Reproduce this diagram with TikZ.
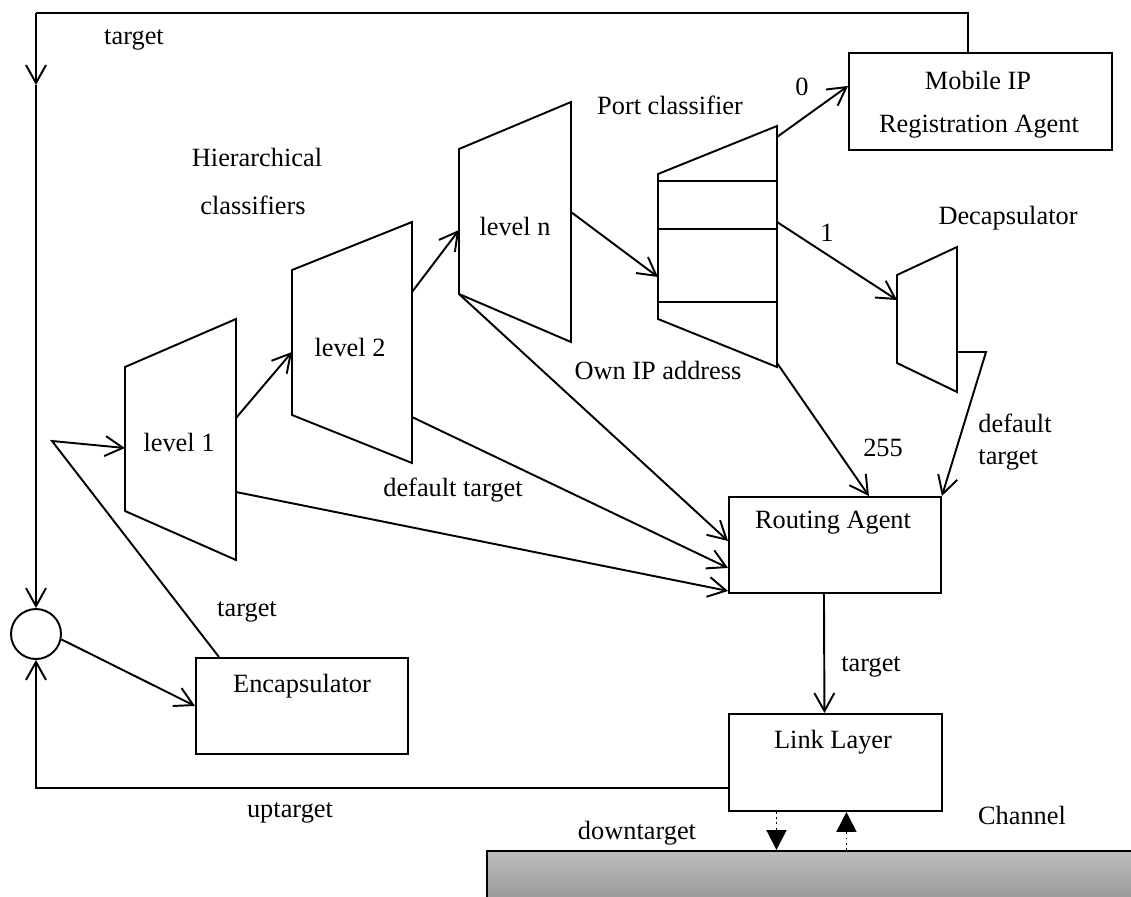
\documentclass[tikz,border=0pt]{standalone}
\usepackage{fontspec}
\setmainfont{Liberation Serif}
\usetikzlibrary{arrows.meta,positioning}
\definecolor{chantop}{HTML}{BDBDBD}
\definecolor{chanbot}{HTML}{8E8E8E}
\tikzset{
  vbox/.style={draw=black,line width=1.1pt,fill=white,inner sep=0pt},
  vtrap/.style={draw=black,line width=1.1pt,line join=miter},
  vline/.style={draw=black,line width=1.1pt},
  varr/.style={-{Straight Barb[length=3.6mm,width=4mm]},line width=1.1pt,draw=black},
  vdot/.style={-{Triangle[length=4mm,width=4mm]},line width=1pt,dotted,draw=black},
  vchan/.style={draw=black,line width=1.1pt,top color=chantop,bottom color=chanbot}
}

\begin{document}
\begin{tikzpicture}[x=0.02cm,y=-0.02cm,font=\fontsize{15}{18}\selectfont]
  \useasboundingbox (0,0) rectangle (1131,896);

  % boxes
  \node[vbox,anchor=north west,minimum width=5.26cm,minimum height=1.94cm] (mip) at (848,52) {};
  \node[vbox,anchor=north west,minimum width=4.24cm,minimum height=1.92cm] (ra) at (728,496) {};
  \node[vbox,anchor=north west,minimum width=4.26cm,minimum height=1.94cm] (ll) at (728,713) {};
  \node[vbox,anchor=north west,minimum width=4.24cm,minimum height=1.92cm] (enc) at (195,657) {};
  \node[draw=black,line width=1.1pt,circle,minimum size=1cm,inner sep=0pt] (sum) at (36,634) {};
  \node[vchan,anchor=north west,minimum width=13.4cm,minimum height=1.3cm] (chan) at (486,850) {};

  \node (miptxt) at (978,80) {Mobile IP};
  \node (regtxt) at (979,127) {Registration Agent};
  \node (ratxt) at (833,523) {Routing Agent};
  \node (lltxt) at (833,742) {Link Layer};
  \node (enctxt) at (302,686) {Encapsulator};

  % classifiers
  \draw[vtrap] (125,367) -- (236,319) -- (236,560) -- (125,511) -- cycle;
  \draw[vtrap] (292,270) -- (412,222) -- (412,463) -- (292,415) -- cycle;
  \draw[vtrap] (459,149) -- (571,102) -- (571,342) -- (459,294) -- cycle;
  \node (lv1) at (179,442) {level 1};
  \node (lv2) at (350,347) {level 2};
  \node (lvn) at (515,226) {level n};

  \draw[vtrap] (658,174) -- (777,126) -- (777,367) -- (658,319) -- cycle;
  \foreach \y in {181,229,302}
    \draw[vline] (658,\y) -- (777,\y);
  \draw[vtrap] (897,275) -- (957,247) -- (957,392) -- (897,363) -- cycle;

  % ports
  \coordinate (l1in) at (125,448);
  \coordinate (l1up) at (236,418);
  \coordinate (l1dn) at (236,492);
  \coordinate (l2in) at (292,352);
  \coordinate (l2up) at (412,292);
  \coordinate (l2dn) at (412,417);
  \coordinate (lnin) at (459,230);
  \coordinate (lnup) at (571,212);
  \coordinate (lndn) at (459,294);
  \coordinate (pcin) at (658,277);
  \coordinate (pc0) at (777,137);
  \coordinate (pc1) at (777,222);
  \coordinate (pc255) at (777,363);
  \coordinate (dcin) at (897,300);
  \coordinate (dcout) at (957,352);
  \coordinate (dcbend) at (986,352);
  \coordinate (ret) at (52,441);
  \coordinate (fbtop) at (36,13);
  \coordinate (fbmid) at (36,85);

  % labels
  \node (tgta) at (134,40) {target};
  \node (hier) at (257,157) {Hierarchical};
  \node (cls) at (253,205) {classifiers};
  \node (portlbl) at (670,105) {Port classifier};
  \node (pzero) at (802,87) {0};
  \node (pone) at (827,233) {1};
  \node (pff) at (883,448) {255};
  \node (dclbl) at (1008,218) {Decapsulator};
  \node[align=left] (dftr) at (1015,442) {default\\target};
  \node (ownip) at (658,370) {Own IP address};
  \node (dft) at (453,490) {default target};
  \node (tgtb) at (247,612) {target};
  \node (tgtc) at (871,667) {target};
  \node (upt) at (290,813) {uptarget};
  \node (dnt) at (637,833) {downtarget};
  \node (chlbl) at (1022,815) {Channel};

  % connections
  \draw[vline] ([xshift=-0.25cm]mip.north) |- (fbtop);
  \draw[varr] (fbtop) -- (fbmid);
  \draw[varr] (fbmid) -- (sum.north);
  \draw[varr] ([yshift=-0.51cm]ll.west) -| (sum.south);
  \draw[varr] (sum.-12) -- (enc.west);
  \draw[varr] ([xshift=-1.66cm]enc.north) -- (ret) -- (l1in);
  \draw[varr] (l1up) -- (l2in);
  \draw[varr] (l2up) -- (lnin);
  \draw[varr] (lnup) -- (pcin);
  \draw[varr] (pc0) -- ([yshift=0.31cm]mip.west);
  \draw[varr] (pc1) -- (dcin);
  \draw[varr] (pc255) -- ([xshift=0.68cm]ra.north);
  \draw[varr] (dcout) -- (dcbend) -- (ra.north east);
  \draw[varr] (lndn) -- ([yshift=0.08cm]ra.west);
  \draw[varr] (l2dn) -- ([yshift=-0.46cm]ra.west);
  \draw[varr] (l1dn) -- ([yshift=-0.92cm]ra.west);
  \draw[varr] ([xshift=-0.22cm]ra.south) -- ([xshift=-0.22cm]ll.north);
  \draw[vdot] ([xshift=-1.18cm]ll.south) -- ([xshift=-1.18cm]ll.south |- chan.north);
  \draw[vdot] ([xshift=0.22cm]ll.south |- chan.north) -- ([xshift=0.22cm]ll.south);
\end{tikzpicture}
\end{document}
